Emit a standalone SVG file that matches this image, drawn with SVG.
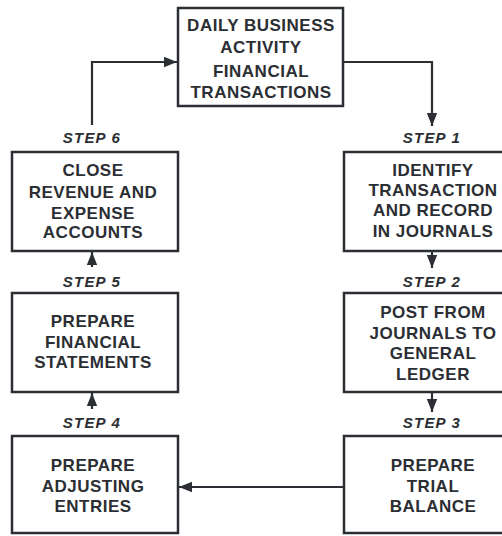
<svg xmlns="http://www.w3.org/2000/svg" width="502" height="536" viewBox="0 0 502 536">
<style>
.box{fill:#fff;stroke:#2b2e33;stroke-width:2.5}
.t{font-family:"Liberation Sans",Arial,sans-serif;font-weight:700;font-size:17px;fill:#2b2e33;text-anchor:middle;letter-spacing:0.5px}
.s{font-family:"Liberation Sans",Arial,sans-serif;font-weight:700;font-style:italic;font-size:15px;fill:#2b2e33;text-anchor:middle;letter-spacing:1.2px}
.c{fill:none;stroke:#2b2e33;stroke-width:2.2}
</style>
<defs>
<marker id="ah" viewBox="0 0 10 10" refX="10" refY="5" markerWidth="6" markerHeight="6" markerUnits="strokeWidth" orient="auto">
<path d="M0,1 L10,5 L0,9 z" fill="#2b2e33"/>
</marker>
</defs>
<rect width="502" height="536" fill="#fff"/>
<g id="connectors">
<path class="c" d="M92,125 V62 H177" marker-end="url(#ah)"/>
<path class="c" d="M343,62 H432 V126" marker-end="url(#ah)"/>
<path class="c" d="M432,251 V268" marker-end="url(#ah)"/>
<path class="c" d="M432,392 V412" marker-end="url(#ah)"/>
<path class="c" d="M344,487 H179" marker-end="url(#ah)"/>
<path class="c" d="M92,409 V393" marker-end="url(#ah)"/>
<path class="c" d="M92,267 V252" marker-end="url(#ah)"/>
</g>
<g id="start">
<rect class="box" x="178" y="8" width="165" height="98"/>
<text class="t" x="261" y="31">DAILY BUSINESS</text>
<text class="t" x="261" y="53">ACTIVITY</text>
<text class="t" x="261" y="77">FINANCIAL</text>
<text class="t" x="261" y="98">TRANSACTIONS</text>
</g>
<g id="step1">
<text class="s" x="432" y="143">STEP 1</text>
<rect class="box" x="344" y="152" width="172" height="99"/>
<text class="t" x="433" y="176">IDENTIFY</text>
<text class="t" x="433" y="196">TRANSACTION</text>
<text class="t" x="433" y="216">AND RECORD</text>
<text class="t" x="433" y="237">IN JOURNALS</text>
</g>
<g id="step2">
<text class="s" x="432" y="287">STEP 2</text>
<rect class="box" x="344" y="293" width="172" height="99"/>
<text class="t" x="433" y="318">POST FROM</text>
<text class="t" x="433" y="339">JOURNALS TO</text>
<text class="t" x="433" y="359">GENERAL</text>
<text class="t" x="433" y="380">LEDGER</text>
</g>
<g id="step3">
<text class="s" x="432" y="428">STEP 3</text>
<rect class="box" x="344" y="436" width="172" height="97"/>
<text class="t" x="433" y="471">PREPARE</text>
<text class="t" x="433" y="492">TRIAL</text>
<text class="t" x="433" y="512">BALANCE</text>
</g>
<g id="step4">
<text class="s" x="92" y="428">STEP 4</text>
<rect class="box" x="12" y="436" width="166" height="97"/>
<text class="t" x="93" y="471">PREPARE</text>
<text class="t" x="93" y="492">ADJUSTING</text>
<text class="t" x="93" y="512">ENTRIES</text>
</g>
<g id="step5">
<text class="s" x="92" y="287">STEP 5</text>
<rect class="box" x="12" y="293" width="166" height="99"/>
<text class="t" x="93" y="327">PREPARE</text>
<text class="t" x="93" y="348">FINANCIAL</text>
<text class="t" x="93" y="368">STATEMENTS</text>
</g>
<g id="step6">
<text class="s" x="92" y="143">STEP 6</text>
<rect class="box" x="12" y="152" width="166" height="99"/>
<text class="t" x="93" y="176">CLOSE</text>
<text class="t" x="93" y="198">REVENUE AND</text>
<text class="t" x="93" y="219">EXPENSE</text>
<text class="t" x="93" y="238">ACCOUNTS</text>
</g>
</svg>
